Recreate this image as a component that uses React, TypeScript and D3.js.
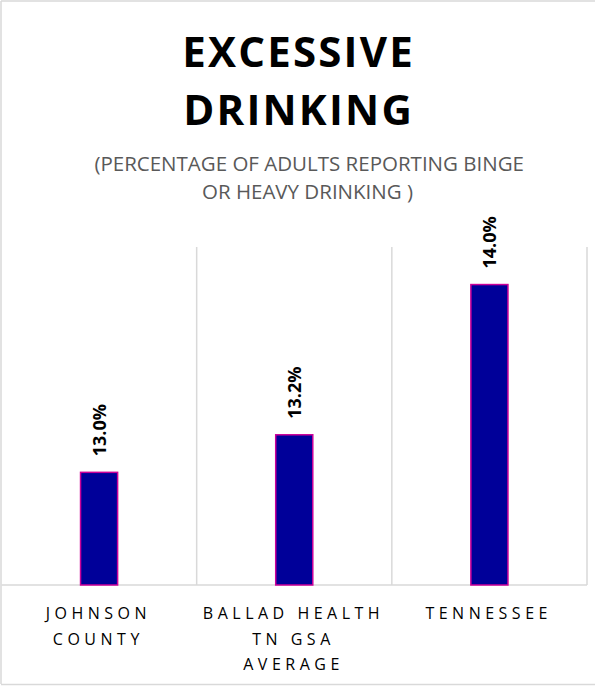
import React from "react";
import * as d3 from "d3";

const categories: string[][] = [
  ["JOHNSON", "COUNTY"],
  ["BALLAD HEALTH", "TN GSA", "AVERAGE"],
  ["TENNESSEE"],
];
const values: number[] = [13.0, 13.2, 14.0];
const valueLabels: string[] = ["13.0%", "13.2%", "14.0%"];
const titleLines: string[] = ["EXCESSIVE", "DRINKING"];
const subtitleLines: string[] = [
  "(PERCENTAGE OF ADULTS REPORTING BINGE",
  "OR HEAVY DRINKING )",
];
const yDomain: [number, number] = [12.4, 14.2];

const W = 595;
const H = 686;
const plot = { left: 1.5, right: 587, top: 247, bottom: 585 };
const FONT = "'Open Sans', 'DejaVu Sans', sans-serif";

export default function App() {
  const keys = categories.map((_, i) => String(i));
  const x = d3.scaleBand<string>().domain(keys).range([plot.left, plot.right]).padding(0);
  const y = d3.scaleLinear().domain(yDomain).range([plot.bottom, plot.top]);
  const bw = x.bandwidth() * 0.19;
  const grid = "#d9d9d9";
  const catSpacing = 4.5;
  const titleSpacing = 2.2;

  return (
    <svg
      width={W}
      height={H}
      style={{ position: "absolute", left: 0, top: 0, background: "#fff" }}
      fontFamily={FONT}
    >
      <rect x={0} y={0} width={W} height={H} fill="#fff" />
      {/* outer border */}
      <line x1={1} x2={1} y1={1} y2={684} stroke={grid} strokeWidth={1.5} />
      <line x1={1} x2={W + 5} y1={1} y2={1} stroke={grid} strokeWidth={1.5} />
      <line x1={1} x2={W + 5} y1={684.5} y2={684.5} stroke={grid} strokeWidth={1.5} />

      {/* title */}
      {titleLines.map((t, i) => (
        <text
          key={t}
          x={W / 2 + titleSpacing / 2}
          y={66.7 + i * 58.3}
          textAnchor="middle"
          fontSize={42}
          fontWeight={700}
          letterSpacing={titleSpacing}
          fill="#000"
        >
          {t}
        </text>
      ))}
      {subtitleLines.map((t, i) => (
        <text
          key={t}
          x={i === 0 ? 309.2 : 307.5}
          y={171 + i * 28}
          textAnchor="middle"
          fontSize={20.5}
          fill="#595959"
        >
          {t}
        </text>
      ))}

      {/* category gridlines */}
      {keys.map((k) => (
        <line
          key={"g" + k}
          x1={(x(k) as number) + x.bandwidth()}
          x2={(x(k) as number) + x.bandwidth()}
          y1={plot.top}
          y2={plot.bottom}
          stroke={grid}
          strokeWidth={1.5}
        />
      ))}
      <line x1={plot.left} x2={plot.right} y1={plot.bottom} y2={plot.bottom} stroke={grid} strokeWidth={1.5} />

      {/* bars */}
      {values.map((v, i) => {
        const cx = (x(keys[i]) as number) + x.bandwidth() / 2;
        return (
          <g key={"b" + i}>
            <rect
              x={cx - bw / 2}
              y={y(v)}
              width={bw}
              height={plot.bottom - y(v)}
              fill="#000099"
              stroke="#cc0099"
              strokeWidth={1.5}
            />
            <text
              transform={`translate(${cx + 7},${y(v) - 16}) rotate(-90)`}
              textAnchor="start"
              fontSize={18}
              fontWeight={700}
              fill="#000"
            >
              {valueLabels[i]}
            </text>
          </g>
        );
      })}

      {/* category labels */}
      {categories.map((lines, i) => {
        const cx = (x(keys[i]) as number) + x.bandwidth() / 2;
        return lines.map((ln, j) => (
          <text
            key={"c" + i + j}
            x={cx - 3 + catSpacing / 2}
            y={619.3 + j * 25.5}
            textAnchor="middle"
            fontSize={16}
            letterSpacing={catSpacing}
            fill="#000"
          >
            {ln}
          </text>
        ));
      })}
    </svg>
  );
}
